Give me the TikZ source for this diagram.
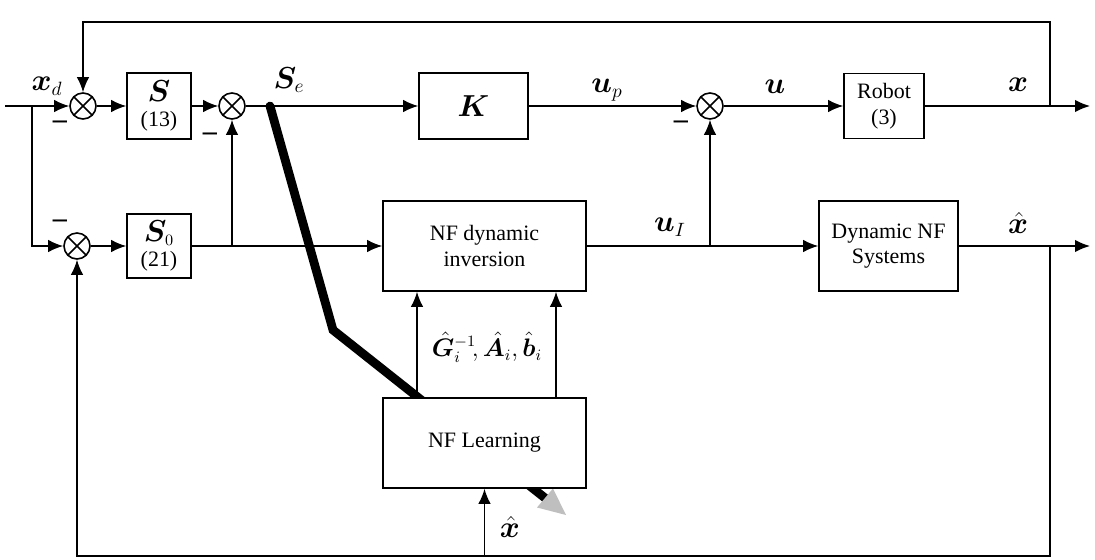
\documentclass[tikz,border=0pt]{standalone}
\usepackage{fontspec}
\setmainfont{Liberation Serif}
\usepackage{amsmath,bm}
\usetikzlibrary{arrows.meta,backgrounds}

\begin{document}
\begin{tikzpicture}[
    line width=0.9pt,
    font=\fontsize{12.5}{14.5}\selectfont,
    blk/.style={draw, fill=white, align=center, inner sep=1pt},
    sumj/.style={draw, fill=white, circle, minimum size=0.52cm, inner sep=0pt,
        path picture={\draw (path picture bounding box.north west) -- (path picture bounding box.south east)
                            (path picture bounding box.north east) -- (path picture bounding box.south west);}},
    arr/.style={-{Latex[length=3mm,width=2.5mm]}},
    lbl/.style={inner sep=0pt, font=\fontsize{16}{16}\selectfont}
]
\useasboundingbox (0,0) rectangle (21.9,-11.2);

% --- upper row ---
\node[sumj] (s1) at (1.66,-2.12) {};
\node[blk, minimum width=1.28cm, minimum height=1.32cm] (S) at (3.18,-2.12) {{\fontsize{19}{19}\selectfont$\bm{S}$}\\(13)};
\node[sumj] (s2) at (4.64,-2.12) {};
\node[blk, minimum width=2.18cm, minimum height=1.32cm] (K) at (9.47,-2.12) {\fontsize{19}{19}\selectfont$\bm{K}$};
\node[sumj] (s3) at (14.2,-2.12) {};
\node[blk, minimum width=1.6cm, minimum height=1.3cm] (robot) at (17.68,-2.12) {Robot\\(3)};

% --- lower row ---
\node[sumj] (s4) at (1.54,-4.92) {};
\node[blk, minimum width=1.28cm, minimum height=1.28cm] (S0) at (3.18,-4.92) {{\fontsize{19}{19}\selectfont$\bm{S}_{\scriptscriptstyle 0}$}\\(21)};
\node[blk, minimum width=4.06cm, minimum height=1.8cm] (inv) at (9.69,-4.92) {NF dynamic\\inversion};
\node[blk, minimum width=2.78cm, minimum height=1.8cm] (dyn) at (17.77,-4.92) {Dynamic NF\\Systems};
\node[blk, minimum width=4.06cm, minimum height=1.8cm] (learn) at (9.69,-8.86) {NF Learning};

% --- branch points and line ends ---
\coordinate (in) at (0.1,-2.12);
\coordinate (br) at (0.64,-2.12);
\coordinate (s0br) at (4.64,-4.92);
\coordinate (uibr) at (14.2,-4.92);
\coordinate (xo) at (21.0,-2.12);
\coordinate (xend) at (21.8,-2.12);
\coordinate (tr) at (21.0,-0.44);
\coordinate (xho) at (21.0,-4.92);
\coordinate (xhend) at (21.8,-4.92);
\coordinate (bl) at (21.0,-11.12);
\coordinate (bm) at (9.69,-11.12);
\coordinate (se) at (5.4,-2.12);
\coordinate (kink) at (6.66,-6.6);
\coordinate (tail) at (10.9,-9.96);

% --- signals ---
\draw[arr] (in) -- (s1);
\draw[arr] (br) |- (s4);
\draw[arr] (s1) -- (S);
\draw[arr] (S) -- (s2);
\draw[arr] (s2) -- (K);
\draw[arr] (K) -- (s3);
\draw[arr] (s3) -- (robot);
\draw[arr] (robot) -- (xend);
\draw[arr] (xo) -- (tr) -| (s1.north);
\draw[arr] (s4) -- (S0);
\draw[arr] (S0) -- (inv);
\draw[arr] (s0br) -- (s2.south);
\draw[arr] (inv) -- (dyn);
\draw[arr] (uibr) -- (s3.south);
\draw[arr] (dyn) -- (xhend);
\draw[arr] (xho) -- (bl) -| (s4.south);
\draw[arr] (bm) -- (learn.south);
\draw[arr] ([xshift=-1.35cm]learn.north) -- ([xshift=-1.35cm]inv.south);
\draw[arr] ([xshift=1.43cm]learn.north) -- ([xshift=1.43cm]inv.south);

% learning signal behind the boxes
\begin{scope}[on background layer]
\draw[line width=5pt, line cap=round] (se) -- (kink) -- (tail);
\fill[gray!50] (11.06,-9.77) -- (11.32,-10.3) -- (10.74,-10.15) -- cycle;
\end{scope}

% --- labels ---
\node[lbl] (lxd) at (0.94,-1.72) {$\bm{x}_d$};
\node[lbl] (m1) at (1.2,-2.5) {\textbf{--}};
\node[lbl] (lse) at (5.78,-1.6) {$\bm{S}_e$};
\node[lbl] (m2) at (4.2,-2.74) {\textbf{--}};
\node[lbl] (m4) at (1.2,-4.48) {\textbf{--}};
\node[lbl] (lup) at (12.14,-1.8) {$\bm{u}_p$};
\node[lbl] (m3) at (13.62,-2.5) {\textbf{--}};
\node[lbl] (lu) at (15.5,-1.74) {$\bm{u}$};
\node[lbl] (lx) at (20.36,-1.7) {$\bm{x}$};
\node[lbl] (lui) at (13.4,-4.54) {$\bm{u}_I$};
\node[lbl] (lxh) at (20.36,-4.46) {$\hat{\bm{x}}$};
\node[lbl, font=\fontsize{13.5}{14}\selectfont] (lg) at (9.74,-6.94) {$\hat{\bm{G}}_i^{-1}\!,\hat{\bm{A}}_i,\hat{\bm{b}}_i$};
\node[lbl] (lxb) at (10.2,-10.54) {$\hat{\bm{x}}$};
\end{tikzpicture}
\end{document}
